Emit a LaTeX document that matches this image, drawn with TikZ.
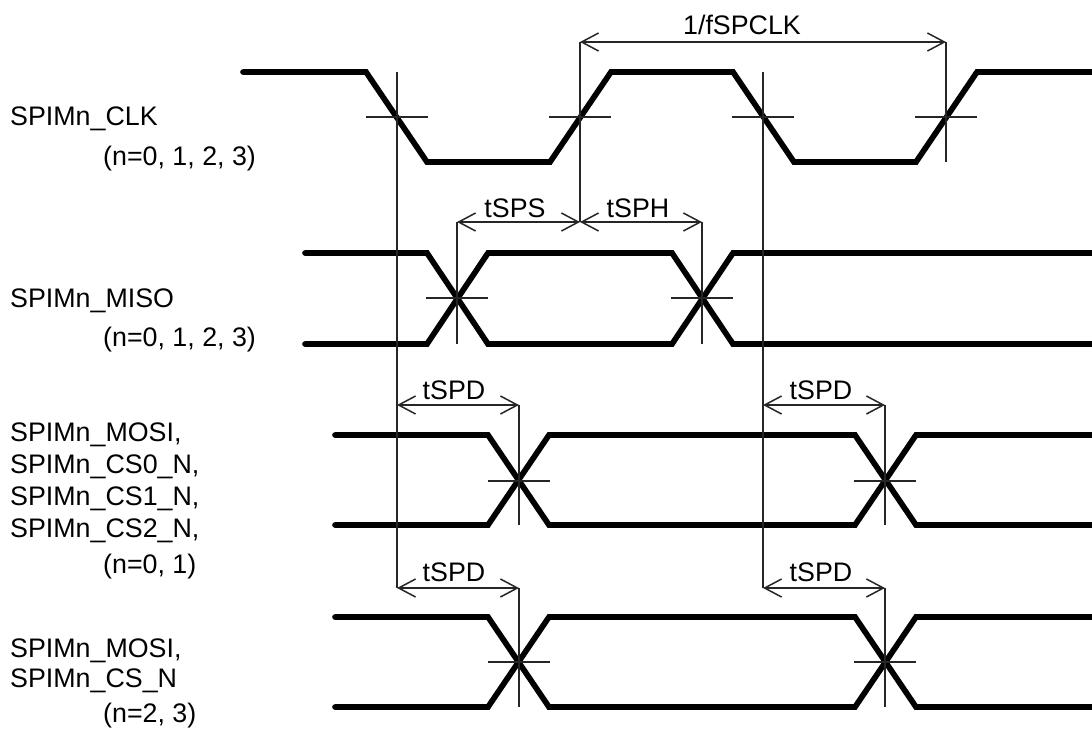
\documentclass[tikz,border=0pt]{standalone}
\usepackage{fontspec}
\setmainfont{Liberation Sans}
\usetikzlibrary{arrows.meta}
\tikzset{
 x=1pt,y=-1pt,
 sig/.style={line width=5.7pt,line cap=round,line join=miter},
 thin line/.style={line width=1.5pt,black!85},
 dim/.style={line width=1.5pt,black!85,{Straight Barb[length=17pt,width=18pt,line width=1.5pt]}-{Straight Barb[length=17pt,width=18pt,line width=1.5pt]}},
 lab/.style={inner sep=0pt,anchor=base west,font=\fontsize{26.8}{30}\selectfont},
 dimlab/.style={inner sep=0pt,anchor=base,font=\fontsize{26.8}{30}\selectfont},
}
\begin{document}
\begin{tikzpicture}
\useasboundingbox (0,0) rectangle (1092,729);
% waveforms
\draw[sig] (243,72) -- (366,72) -- (427,162) -- (550,162) -- (611,72) -- (733,72) -- (794,162) -- (916,162) -- (977,72) -- (1092,72);
\draw[sig] (305,253) -- (427,253) -- (488,344) -- (672,344)  -- (733,253) -- (1092,253);
\draw[sig] (305,344) -- (427,344) -- (488,253) -- (672,253) -- (733,344) -- (1092,344);
\draw[sig] (335,435) -- (488,435) -- (549,525) -- (855,525) -- (916,435) -- (1092,435);
\draw[sig] (335,525) -- (488,525) -- (549,435) -- (855,435) -- (916,525) -- (1092,525);
\draw[sig] (335,617) -- (488,617) -- (549,707) -- (855,707) -- (916,617) -- (1092,617);
\draw[sig] (335,707) -- (488,707) -- (549,617) -- (855,617) -- (916,707) -- (1092,707);
% key coordinates
\coordinate (c1t) at (397,72);  \coordinate (c1b) at (397,588);
\coordinate (c2t) at (763,72);  \coordinate (c2b) at (763,588);
\coordinate (r1t) at (580,42);  \coordinate (r1b) at (580,222);
\coordinate (r2t) at (946,42);  \coordinate (r2b) at (946,162);
\coordinate (s1t) at (457,222); \coordinate (s1b) at (457,344);
\coordinate (h1t) at (702,222); \coordinate (h1b) at (702,344);
\coordinate (d1t) at (519,405); \coordinate (d1b) at (519,525);
\coordinate (d2t) at (885,405); \coordinate (d2b) at (885,525);
\coordinate (e1t) at (519,588); \coordinate (e1b) at (519,707);
\coordinate (e2t) at (885,588); \coordinate (e2b) at (885,707);
\coordinate (a1) at (397,405); \coordinate (a2) at (763,405);
\foreach \a/\b in {c1t/c1b,c2t/c2b,r1t/r1b,r2t/r2b,s1t/s1b,h1t/h1b,d1t/d1b,d2t/d2b,e1t/e1b,e2t/e2b}
  \draw[thin line] (\a) -- (\b);
% crossing ticks
\foreach \x/\y in {397/117,580/117,763/117,946/117,457/298,702/298,519/481,885/481,519/662,885/662}
  \draw[thin line] (\x-31,\y) -- (\x+31,\y);
% dimension arrows
\draw[dim] (r1t) -- (r2t |- r1t);
\draw[dim] (s1t) -- (r1b);
\draw[dim] (r1b) -- (h1t);
\draw[dim] (a1) -- (d1t);
\draw[dim] (a2) -- (d2t);
\draw[dim] (c1b) -- (e1t);
\draw[dim] (c2b) -- (e2t);
% dimension labels
\node[dimlab] (t0) at (742,34) {1/fSPCLK};
\node[dimlab] (t1) at (515,217) {tSPS};
\node[dimlab] (t2) at (638,217) {tSPH};
\node[dimlab] (t3) at (454,399) {tSPD};
\node[dimlab] (t4) at (821,399) {tSPD};
\node[dimlab] (t5) at (454,581) {tSPD};
\node[dimlab] (t6) at (821,581) {tSPD};
% left labels
\node[lab] (l1) at (10,125) {SPIMn\_CLK};
\node[lab] (l2) at (103,165) {(n=0, 1, 2, 3)};
\node[lab] (l3) at (10,307) {SPIMn\_MISO};
\node[lab] (l4) at (103,346) {(n=0, 1, 2, 3)};
\node[lab] (l5) at (10,441) {SPIMn\_MOSI,};
\node[lab] (l6) at (10,473) {SPIMn\_CS0\_N,};
\node[lab] (l7) at (10,505) {SPIMn\_CS1\_N,};
\node[lab] (l8) at (10,537) {SPIMn\_CS2\_N,};
\node[lab] (l9) at (103,573) {(n=0, 1)};
\node[lab] (l10) at (10,657) {SPIMn\_MOSI,};
\node[lab] (l11) at (10,687) {SPIMn\_CS\_N};
\node[lab] (l12) at (103,722) {(n=2, 3)};
\end{tikzpicture}
\end{document}
